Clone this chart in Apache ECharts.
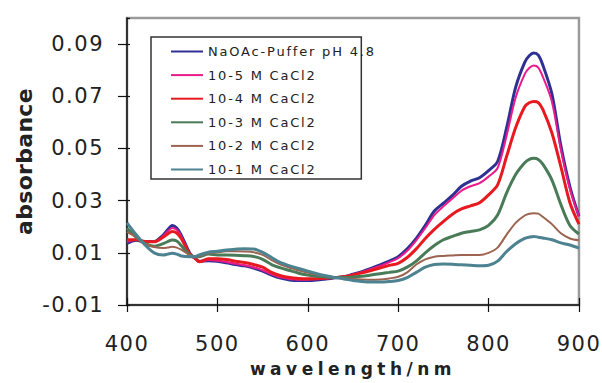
<!DOCTYPE html>
<html>
<head>
<meta charset="utf-8">
<script src="https://cdn.jsdelivr.net/npm/echarts@6/dist/echarts.min.js"></script>
<style>
html,body{margin:0;padding:0;background:#fff;}
#chart{width:602px;height:383px;}
</style>
</head>
<body>
<div id="chart"></div>
<script>
// wavelengths (nm)
const wavelength = [400,410,420,430,440,445,450,455,460,470,475,480,490,500,510,520,530,540,550,560,570,580,590,600,610,620,630,640,650,660,670,680,690,700,710,720,730,740,750,760,770,780,790,800,810,820,830,840,845,850,855,860,870,880,890,900];

const seriesNames = ["NaOAc-Puffer pH 4.8","10-5 M CaCl2","10-4 M CaCl2","10-3 M CaCl2","10-2 M CaCl2","10-1 M CaCl2"];

const naoac = [0.0136,0.0148,0.0143,0.0143,0.0168,0.0188,0.0205,0.0195,0.0168,0.0095,0.0080,0.0068,0.0070,0.0068,0.0062,0.0055,0.0050,0.0042,0.0030,0.0015,0.0003,-0.0004,-0.0006,-0.0006,-0.0004,0.0000,0.0004,0.0008,0.0018,0.0028,0.0040,0.0054,0.0068,0.0085,0.0115,0.0155,0.0205,0.0260,0.0290,0.0320,0.0355,0.0375,0.0388,0.0415,0.0450,0.0580,0.0735,0.0830,0.0855,0.0866,0.0858,0.0820,0.0710,0.0510,0.0353,0.0240];
const cacl2_1e5 = [0.0142,0.0150,0.0143,0.0143,0.0165,0.0183,0.0195,0.0188,0.0163,0.0093,0.0078,0.0065,0.0072,0.0070,0.0065,0.0058,0.0052,0.0044,0.0033,0.0018,0.0006,0.0000,-0.0003,-0.0003,-0.0001,0.0002,0.0005,0.0008,0.0017,0.0027,0.0038,0.0050,0.0064,0.0080,0.0108,0.0148,0.0195,0.0245,0.0278,0.0308,0.0338,0.0355,0.0367,0.0392,0.0425,0.0550,0.0695,0.0785,0.0808,0.0818,0.0810,0.0775,0.0680,0.0495,0.0345,0.0240];
const cacl2_1e4 = [0.0150,0.0150,0.0143,0.0142,0.0160,0.0172,0.0182,0.0176,0.0155,0.0092,0.0080,0.0066,0.0077,0.0077,0.0074,0.0068,0.0063,0.0055,0.0045,0.0025,0.0012,0.0005,0.0002,0.0001,0.0001,0.0003,0.0005,0.0008,0.0015,0.0023,0.0032,0.0042,0.0052,0.0060,0.0082,0.0115,0.0155,0.0190,0.0220,0.0248,0.0268,0.0280,0.0292,0.0322,0.0360,0.0470,0.0580,0.0660,0.0675,0.0680,0.0676,0.0650,0.0560,0.0430,0.0292,0.0210];
const cacl2_1e3 = [0.0194,0.0160,0.0135,0.0125,0.0135,0.0143,0.0149,0.0145,0.0128,0.0090,0.0085,0.0085,0.0095,0.0092,0.0092,0.0091,0.0089,0.0086,0.0075,0.0055,0.0042,0.0032,0.0022,0.0015,0.0010,0.0007,0.0005,0.0005,0.0007,0.0010,0.0015,0.0020,0.0025,0.0030,0.0045,0.0068,0.0100,0.0128,0.0150,0.0163,0.0175,0.0182,0.0188,0.0205,0.0245,0.0330,0.0400,0.0445,0.0458,0.0462,0.0458,0.0440,0.0380,0.0285,0.0205,0.0172];
const cacl2_1e2 = [0.0180,0.0160,0.0135,0.0122,0.0118,0.0120,0.0123,0.0120,0.0112,0.0090,0.0085,0.0087,0.0098,0.0102,0.0106,0.0106,0.0105,0.0102,0.0092,0.0072,0.0055,0.0043,0.0032,0.0024,0.0016,0.0010,0.0006,0.0003,0.0000,-0.0002,-0.0003,-0.0002,0.0002,0.0008,0.0025,0.0055,0.0075,0.0085,0.0088,0.0090,0.0092,0.0092,0.0092,0.0100,0.0120,0.0170,0.0215,0.0243,0.0250,0.0252,0.0250,0.0238,0.0210,0.0175,0.0155,0.0148];
const cacl2_1e1 = [0.0215,0.0170,0.0130,0.0100,0.0092,0.0095,0.0098,0.0095,0.0088,0.0085,0.0085,0.0092,0.0102,0.0106,0.0111,0.0114,0.0116,0.0115,0.0102,0.0082,0.0062,0.0050,0.0040,0.0030,0.0020,0.0012,0.0005,0.0000,-0.0006,-0.0010,-0.0012,-0.0012,-0.0010,-0.0006,0.0005,0.0025,0.0045,0.0055,0.0057,0.0056,0.0054,0.0052,0.0050,0.0052,0.0068,0.0105,0.0135,0.0155,0.0160,0.0163,0.0160,0.0157,0.0150,0.0138,0.0130,0.0118];

const allValues = [naoac, cacl2_1e5, cacl2_1e4, cacl2_1e3, cacl2_1e2, cacl2_1e1];
const colors = ['#2e3192','#ec1a8c','#e8191f','#4a7b58','#9b6350','#4d8290'];
const widths = [3,2,3,3,2,3];

const xTicks = {min:400, max:900, interval:100};
const yTicks = {min:-0.01, max:0.1, interval:0.02};

const chart = echarts.init(document.getElementById('chart'), null, {renderer:'svg'});
const numFont = {fontFamily:'DejaVu Sans', fontSize:21, color:'#222'};

const option = {
  animation:false,
  backgroundColor:'#fff',
  grid:{left:127,right:20,top:18,bottom:78,show:true,borderColor:'#9a9a9a',borderWidth:2.5},
  legend:{
    orient:'vertical', left:151, top:37,
    padding:[8,20,3,19],
    itemWidth:32, itemHeight:14, itemGap:10.6,
    borderColor:'#333', borderWidth:1.5, backgroundColor:'#fff',
    itemStyle:{opacity:0, borderWidth:0},
    textStyle:{fontFamily:'DejaVu Sans', fontSize:13, color:'#222', width:170},
    data:seriesNames
  },
  xAxis:[{
    type:'value', min:xTicks.min, max:xTicks.max, interval:xTicks.interval,
    name:'wavelength/nm', nameLocation:'middle', nameGap:55,
    nameTextStyle:{fontFamily:'DejaVu Sans', fontWeight:'bold', fontSize:17, color:'#222'},
    axisLine:{show:true, onZero:false, lineStyle:{color:'#111', width:1.5}},
    axisTick:{show:true, inside:false, length:7, lineStyle:{color:'#111', width:1.2}},
    axisLabel:Object.assign({margin:28}, numFont),
    splitLine:{show:false}
  },{
    type:'value', position:'bottom', min:xTicks.min, max:xTicks.max, interval:xTicks.interval,
    axisLine:{show:false, onZero:false}, axisLabel:{show:false},
    axisTick:{show:true, inside:true, length:7, lineStyle:{color:'#111', width:1.2}},
    splitLine:{show:false}
  }],
  yAxis:[{
    type:'value', min:yTicks.min, max:yTicks.max, interval:yTicks.interval,
    name:'absorbance', nameLocation:'middle', nameGap:92,
    nameTextStyle:{fontFamily:'DejaVu Sans', fontWeight:'bold', fontSize:22, color:'#222'},
    axisLine:{show:true, onZero:false, lineStyle:{color:'#111', width:1.5}},
    axisTick:{show:true, inside:false, length:9, lineStyle:{color:'#111', width:1.2}},
    axisLabel:Object.assign({margin:23, showMaxLabel:false, formatter:v=>v.toFixed(2)}, numFont),
    splitLine:{show:false}
  },{
    type:'value', position:'left', min:yTicks.min, max:yTicks.max, interval:yTicks.interval,
    axisLine:{show:false, onZero:false}, axisLabel:{show:false},
    axisTick:{show:true, inside:true, length:3, lineStyle:{color:'#111', width:1.2}},
    splitLine:{show:false}
  }],
  series: allValues.map((vals,i)=>({
    name:seriesNames[i], type:'line', xAxisIndex:0, yAxisIndex:0,
    data: wavelength.map((w,j)=>[w, vals[j]]),
    symbol:'none', smooth:0.3,
    lineStyle:{color:colors[i], width:widths[i]},
    itemStyle:{color:colors[i]}
  }))
};
chart.setOption(option);

function applySpacing(){
  document.querySelectorAll('#chart svg text').forEach(t=>{
    const s = t.textContent;
    if (s === 'wavelength/nm') t.style.letterSpacing = '4.5px';
    else if (s === 'absorbance') t.style.letterSpacing = '0.3px';
    else if (/^-?[0-9.]+$/.test(s)) t.style.letterSpacing = '1.5px';
    else t.style.letterSpacing = '1.8px';
  });
}
applySpacing();
chart.on('finished', applySpacing);
</script>
</body>
</html>
